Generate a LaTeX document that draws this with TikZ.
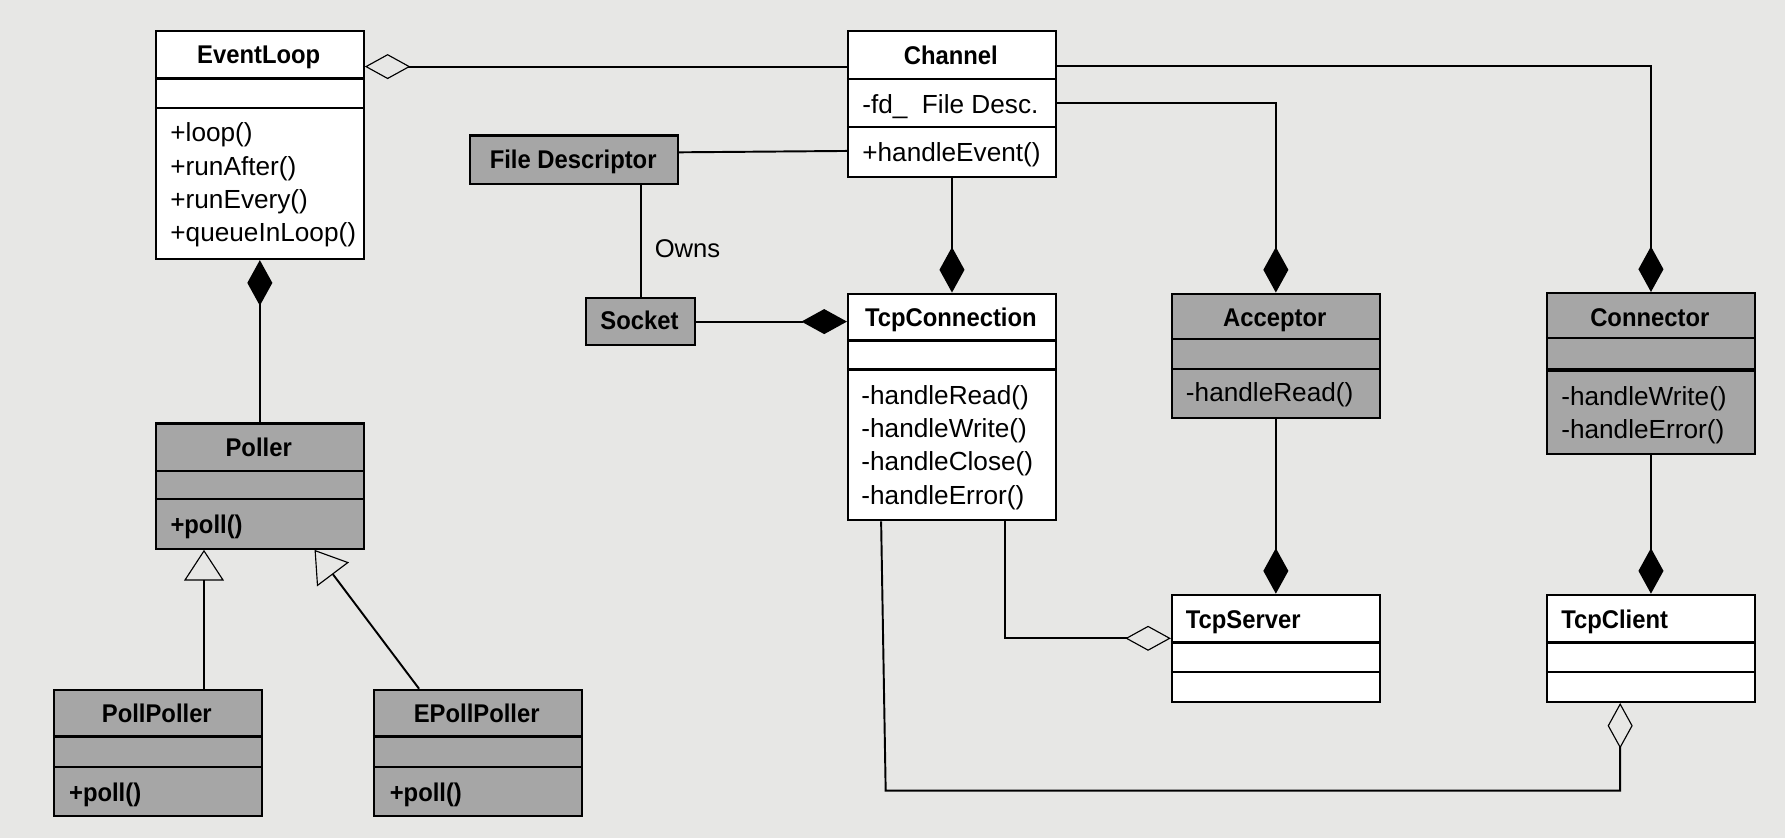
\documentclass[tikz,border=0pt]{standalone}
\usepackage{fontspec}
\setmainfont{Liberation Sans}
\newfontfamily\hdfont[FakeStretch=0.93]{Liberation Sans Bold}
\usetikzlibrary{arrows.meta}
\definecolor{bg}{HTML}{E7E7E5}
\definecolor{boxgray}{HTML}{A6A6A6}
\tikzset{
  cls/.style={draw, line width=2pt, inner sep=0pt, minimum width=182.5pt, anchor=north west},
  sep/.style={line width=2pt},
  thicksep/.style={line width=3.2pt},
  ttl/.style={inner sep=0pt, anchor=base, font=\hdfont\fontsize{22.5}{26}\selectfont},
  ttll/.style={ttl, anchor=base west},
  mth/.style={inner sep=0pt, anchor=base west, font=\fontsize{23}{27}\selectfont},
  bmth/.style={mth, font=\hdfont\fontsize{22.5}{26}\selectfont},
  conn/.style={line width=1.7pt},
  comp/.style={conn, -{Diamond[length=40pt,width=22pt]}},
  compstart/.style={conn, {Diamond[length=40pt,width=22pt]}-},
  agg/.style={conn, -{Diamond[open,length=40pt,width=22pt,line width=1pt]}},
  aggstart/.style={conn, {Diamond[open,length=40pt,width=22pt,line width=1pt]}-},
  inh/.style={conn, -{Triangle[open,length=27pt,width=35pt,line width=1pt]}}
}
\newcommand{\klass}[5]{\node[cls, fill=#5, minimum height=#4pt] (#1) at (#2,#3) {};}
\newcommand{\sepl}[3][sep]{\draw[#1] (#2.west |- 0,#3) -- (#2.east |- 0,#3);}
\begin{document}
\begin{tikzpicture}[x=1pt,y=-1pt]
\fill[bg] (0,0) rectangle (1568,736);
\useasboundingbox (0,0) rectangle (1568,736);

% EventLoop
\klass{el}{136}{26.5}{200}{white}
\sepl{el}{69}\sepl{el}{95}
\node[ttl] (elt) at (227.25,56) {EventLoop};
\node[mth] (elm1) at (149.5,124.5) {+loop()};
\node[mth] (elm2) at (149.5,153.8) {+runAfter()};
\node[mth] (elm3) at (149.5,183.1) {+runEvery()};
\node[mth] (elm4) at (149.5,212.4) {+queueInLoop()};

% Channel
\klass{ch}{744}{26.5}{128}{white}
\sepl{ch}{69.5}\sepl{ch}{111.5}
\node[ttl] (cht) at (835.25,57) {Channel};
\node[mth] (cha) at (757.3,99.6) {-fd\_\ \ File Desc.};
\node[mth] (chm) at (757.3,142) {+handleEvent()};

% File Descriptor
\klass{fd}{412}{118}{42.5}{boxgray}
\node[ttl] (fdt) at (503.5,148) {File Descriptor};

% Socket
\node[cls, fill=boxgray, minimum width=95.5pt, minimum height=41pt] (sock) at (514,261) {};
\node[ttl] (sockt) at (561.75,289.5) {Socket};

% TcpConnection
\klass{tc}{744}{257}{199}{white}
\sepl{tc}{299}\sepl{tc}{324.5}
\node[ttl] (tct) at (835.25,287) {TcpConnection};
\node[mth] (tcm1) at (756.5,354.9) {-handleRead()};
\node[mth] (tcm2) at (756.5,384.4) {-handleWrite()};
\node[mth] (tcm3) at (756.5,413.7) {-handleClose()};
\node[mth] (tcm4) at (756.5,443) {-handleError()};

% Acceptor
\klass{acc}{1028.5}{257}{109}{boxgray}
\sepl{acc}{298}\sepl{acc}{324}
\node[ttl] (acct) at (1119.75,287) {Acceptor};
\node[mth] (accm) at (1041.6,352.8) {-handleRead()};

% Connector
\klass{con}{1358}{256.5}{141.5}{boxgray}
\sepl{con}{297}\sepl[thicksep]{con}{325}
\node[ttl] (cont) at (1449.25,286.5) {Connector};
\node[mth] (conm1) at (1371.3,355.8) {-handleWrite()};
\node[mth] (conm2) at (1371.3,385) {-handleError()};

% Poller
\klass{pol}{136}{371}{110}{boxgray}
\sepl{pol}{413.5}\sepl{pol}{438.5}
\node[ttl] (polt) at (227.25,401) {Poller};
\node[bmth] (polm) at (149.6,468.5) {+poll()};

% PollPoller
\klass{pp}{46.5}{605}{111}{boxgray}
\sepl[thicksep]{pp}{647}\sepl{pp}{673.5}
\node[ttl] (ppt) at (137.75,634.5) {PollPoller};
\node[bmth] (ppm) at (60.5,704.2) {+poll()};

% EPollPoller
\klass{epp}{327.5}{605}{111}{boxgray}
\sepl[thicksep]{epp}{647}\sepl{epp}{673.5}
\node[ttl] (eppt) at (418.75,634.5) {EPollPoller};
\node[bmth] (eppm) at (342.2,704.2) {+poll()};

% TcpServer
\klass{ts}{1028.5}{521.5}{94}{white}
\sepl{ts}{564.5}\sepl{ts}{590}
\node[ttll] (tst) at (1041.5,552) {TcpServer};

% TcpClient
\klass{tcl}{1358}{521.5}{94}{white}
\sepl[thicksep]{tcl}{564.5}\sepl{tcl}{590}
\node[ttll] (tclt) at (1371.3,552) {TcpClient};

% connectors
\draw[aggstart] (el.east |- 0,58.5) -- (ch.west |- 0,58.5);
\draw[comp] (ch.south) -- (tc.north);
\draw[comp] (ch.east |- 0,90.2) -| (acc.north);
\draw[comp] (ch.east |- 0,58) -| (con.north);
\draw[conn] (fd.east |- 0,133.8) -- (ch.west |- 0,132.6);
\draw[conn] (sock.north) -- (sock.north |- fd.south);
\node[mth, font=\fontsize{22.5}{26}\selectfont] (owns) at (575,226.3) {Owns};
\draw[comp] (sock.east) -- (tc.west |- sock.east);
\draw[compstart] (el.south) -- (pol.north);
\draw[inh] (pp.north -| 179.2,0) -- (pol.south -| 179.2,0);
\draw[inh] (epp.north -| 368.1,0) -- (pol.south -| 276.3,0);
\draw[comp] (acc.south) -- (ts.north);
\draw[comp] (con.south) -- (tcl.north);
\draw[agg] (tc.south -| 883,0) |- (ts.west |- 0,560.7);
\draw[agg] (tc.south -| 774,0) -- (778,694.5) -- (1423.2,694.5) -- (tcl.south -| 1423.2,0);
\end{tikzpicture}
\end{document}
